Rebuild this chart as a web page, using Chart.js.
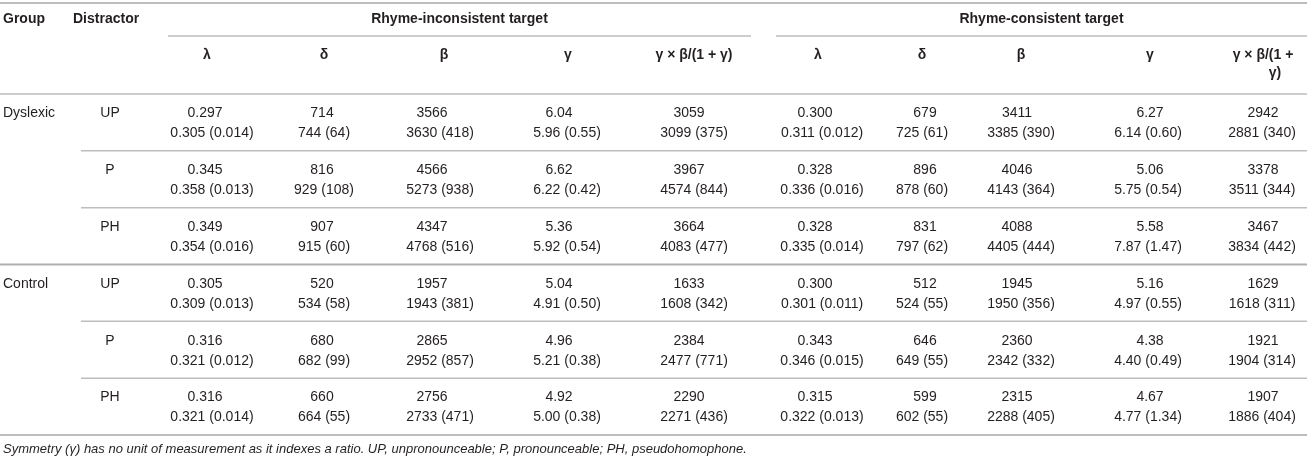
<!DOCTYPE html>
<html>
<head>
<meta charset="utf-8">
<script src="https://cdn.jsdelivr.net/npm/chart.js@4.4.0/dist/chart.umd.min.js"></script>
<style>
  html, body { margin: 0; padding: 0; background: #fff; }
</style>
</head>
<body>
<canvas id="tbl" width="1307" height="462"></canvas>
<script>
// table content
const groups = ['Dyslexic', 'Control'];
const distractors = ['UP', 'P', 'PH'];
const targets = ['Rhyme-inconsistent target', 'Rhyme-consistent target'];
const params = ['λ', 'δ', 'β', 'γ', 'γ × β/(1 + γ)'];
const decimals = [3, 0, 0, 2, 0];

// each row: [model estimate, observed mean, SD]; rows = Dyslexic UP/P/PH, Control UP/P/PH
const incLambda = [[0.297, 0.305, 0.014], [0.345, 0.358, 0.013], [0.349, 0.354, 0.016], [0.305, 0.309, 0.013], [0.316, 0.321, 0.012], [0.316, 0.321, 0.014]];
const incDelta = [[714, 744, 64], [816, 929, 108], [907, 915, 60], [520, 534, 58], [680, 682, 99], [660, 664, 55]];
const incBeta = [[3566, 3630, 418], [4566, 5273, 938], [4347, 4768, 516], [1957, 1943, 381], [2865, 2952, 857], [2756, 2733, 471]];
const incGamma = [[6.04, 5.96, 0.55], [6.62, 6.22, 0.42], [5.36, 5.92, 0.54], [5.04, 4.91, 0.50], [4.96, 5.21, 0.38], [4.92, 5.00, 0.38]];
const incRatio = [[3059, 3099, 375], [3967, 4574, 844], [3664, 4083, 477], [1633, 1608, 342], [2384, 2477, 771], [2290, 2271, 436]];

const conLambda = [[0.300, 0.311, 0.012], [0.328, 0.336, 0.016], [0.328, 0.335, 0.014], [0.300, 0.301, 0.011], [0.343, 0.346, 0.015], [0.315, 0.322, 0.013]];
const conDelta = [[679, 725, 61], [896, 878, 60], [831, 797, 62], [512, 524, 55], [646, 649, 55], [599, 602, 55]];
const conBeta = [[3411, 3385, 390], [4046, 4143, 364], [4088, 4405, 444], [1945, 1950, 356], [2360, 2342, 332], [2315, 2288, 405]];
const conGamma = [[6.27, 6.14, 0.60], [5.06, 5.75, 0.54], [5.58, 7.87, 1.47], [5.16, 4.97, 0.55], [4.38, 4.40, 0.49], [4.67, 4.77, 1.34]];
const conRatio = [[2942, 2881, 340], [3378, 3511, 344], [3467, 3834, 442], [1629, 1618, 311], [1921, 1904, 314], [1907, 1886, 404]];

const note = 'Symmetry (γ) has no unit of measurement as it indexes a ratio. UP, unpronounceable; P, pronounceable; PH, pseudohomophone.';

// layout (x in page units, one unit = one pixel of the 1307 wide frame)
const W = 1307;
const colX = [212, 324, 440, 567, 694, 822, 922, 1021, 1148, 1262];
const firstShift = [-7, -2, -8, -8, -5, -7, 3, -4, 2, 1];
const headX = [207, 324, 444, 568, 694, 818, 922, 1021, 1150, 1263];
const spanX = [[168, 751], [776, 1307]];
const groupX = 3, distX = 110, distHeadX = 73, subRuleX = 81;

const FONT = '"Liberation Sans", Arial, Helvetica, sans-serif';
const INK = '#231f20';
const RULE = '#bdbdbd';

const valueCols = [incLambda, incDelta, incBeta, incGamma, incRatio, conLambda, conDelta, conBeta, conGamma, conRatio];
const rowKeys = [];
groups.forEach(g => distractors.forEach(d => rowKeys.push(g + ' ' + d)));

const datasets = valueCols.map((col, c) => {
  const d = decimals[c % 5];
  return {
    label: targets[Math.floor(c / 5)] + ' ' + params[c % 5],
    data: rowKeys.map(k => ({ x: colX[c], y: k })),
    cellText: col.map(r => [r[0].toFixed(d), r[1].toFixed(d) + ' (' + r[2].toFixed(d) + ')']),
    shift: firstShift[c],
    align: 'center',
    pointRadius: 0
  };
});
datasets.push({
  label: 'Group',
  data: rowKeys.map(k => ({ x: groupX, y: k })),
  cellText: rowKeys.map((k, i) => [i % 3 === 0 ? groups[i / 3] : '', '']),
  shift: 0, align: 'left', pointRadius: 0
});
datasets.push({
  label: 'Distractor',
  data: rowKeys.map(k => ({ x: distX, y: k })),
  cellText: rowKeys.map((k, i) => [distractors[i % 3], '']),
  shift: 0, align: 'center', pointRadius: 0
});

const tablePlugin = {
  id: 'tableText',
  afterDatasetsDraw(chart) {
    const { ctx, chartArea: a, scales: { x, y } } = chart;
    const px = v => x.getPixelForValue(v);
    ctx.save();

    const rule = (x0, x1, yy, w, c) => {
      ctx.beginPath();
      ctx.strokeStyle = c || RULE;
      ctx.lineWidth = w || 1.5;
      ctx.moveTo(px(x0), yy);
      ctx.lineTo(px(x1), yy);
      ctx.stroke();
    };

    // header rules
    rule(0, W, a.top - 91, 2);
    spanX.forEach(s => rule(s[0], s[1], a.top - 58));
    rule(0, W, a.top, 1.5);

    // row rules
    const mids = rowKeys.map((k, i) => y.getPixelForValue(i));
    for (let i = 0; i < mids.length - 1; i++) {
      const yy = (mids[i] + mids[i + 1]) / 2;
      if ((i + 1) % 3 === 0) rule(0, W, yy, 2, '#b0b0b0');
      else rule(subRuleX, W, yy, 1.5);
    }
    rule(0, W, a.bottom, 2);

    ctx.fillStyle = INK;
    ctx.textBaseline = 'middle';

    // header text
    ctx.font = 'bold 14px ' + FONT;
    ctx.textAlign = 'left';
    ctx.fillText('Group', px(groupX), a.top - 75);
    ctx.fillText('Distractor', px(distHeadX), a.top - 75);
    ctx.textAlign = 'center';
    spanX.forEach((s, i) => ctx.fillText(targets[i], (px(s[0]) + px(s[1])) / 2, a.top - 75));
    headX.forEach((hx, c) => {
      const label = params[c % 5];
      if (c === 9) {
        ctx.fillText('γ × β/(1 +', px(hx), a.top - 39);
        ctx.fillText('γ)', px(hx + 12), a.top - 21);
      } else {
        ctx.fillText(label, px(hx), a.top - 39);
      }
    });

    // cells
    ctx.font = '14px ' + FONT;
    chart.data.datasets.forEach((ds, di) => {
      const meta = chart.getDatasetMeta(di);
      ctx.textAlign = ds.align;
      meta.data.forEach((el, i) => {
        const t = ds.cellText[i];
        ctx.fillText(t[0], el.x + ds.shift, el.y - 9);
        ctx.fillText(t[1], el.x, el.y + 11);
      });
    });

    // footnote
    ctx.font = 'italic 13px ' + FONT;
    ctx.textAlign = 'left';
    ctx.fillText(note, px(groupX), a.bottom + 14);
    ctx.restore();
  }
};

new Chart(document.getElementById('tbl'), {
  type: 'scatter',
  data: { datasets: datasets },
  options: {
    responsive: false,
    animation: false,
    layout: { padding: { top: 94, bottom: 27, left: 0, right: 0 } },
    scales: {
      x: { type: 'linear', min: 0, max: W, display: false },
      y: { type: 'category', labels: rowKeys, offset: true, display: false }
    },
    plugins: { legend: { display: false }, tooltip: { enabled: false } }
  },
  plugins: [tablePlugin]
});
</script>
</body>
</html>
